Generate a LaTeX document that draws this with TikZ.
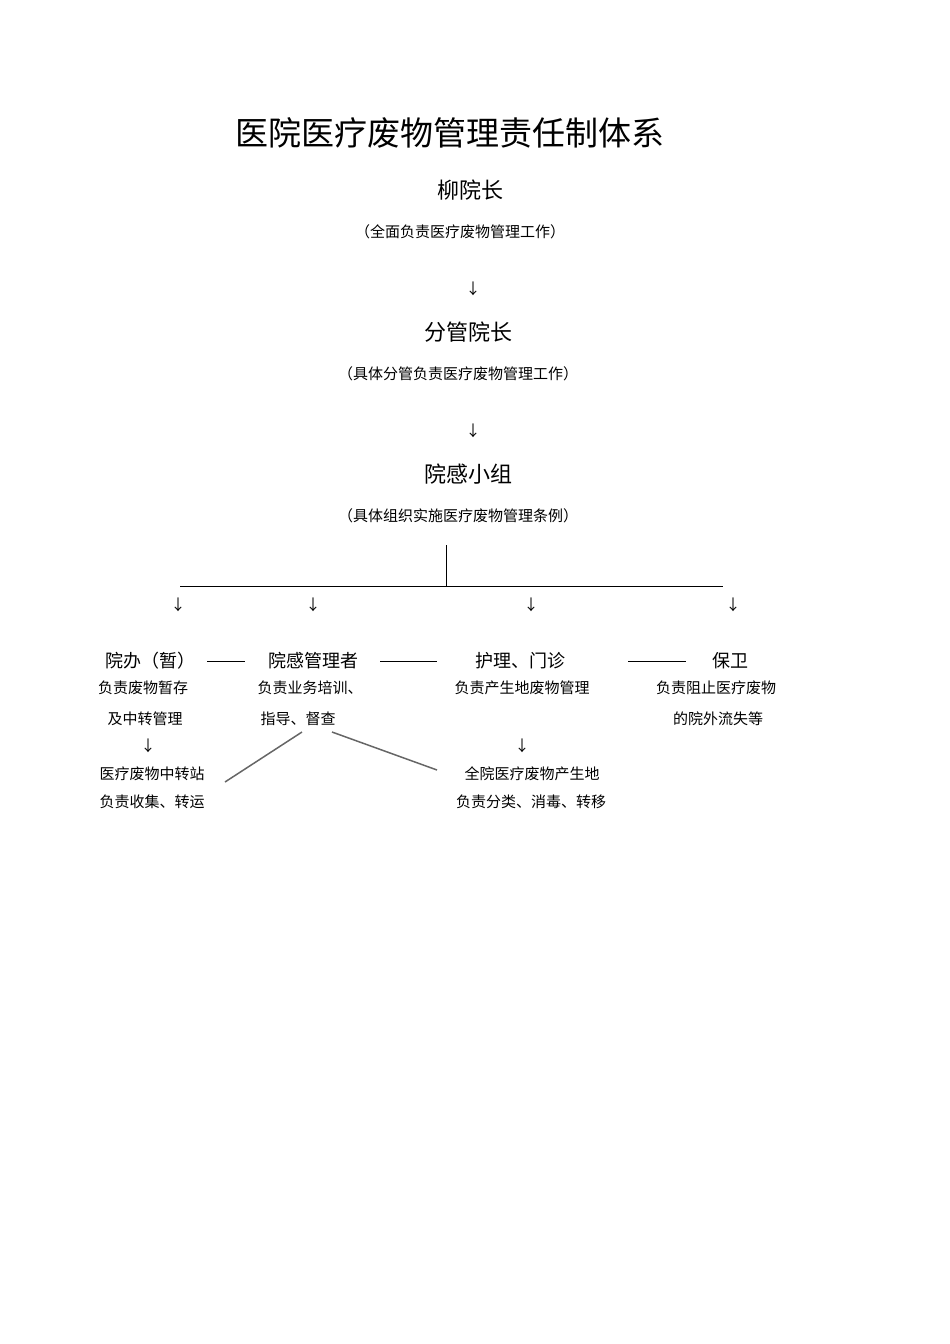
\documentclass[tikz,border=0pt]{standalone}
\usepackage{fontspec}
\setmainfont{Noto Sans CJK SC}
\begin{document}
\begin{tikzpicture}[x=1pt,y=-1pt,
  big/.style={font=\fontsize{22}{24}\selectfont,inner sep=0},
  sm/.style={font=\fontsize{15}{17}\selectfont,inner sep=0},
  ln/.style={line width=0.9pt}]
\useasboundingbox (0,0) rectangle (950,1344);
\node[font=\fontsize{33}{36}\selectfont,inner sep=0] (title) at (450,133) {医院医疗废物管理责任制体系};
\node[big] (a) at (470,190) {柳院长};
\node[sm] (an) at (460,232) {（全面负责医疗废物管理工作）};
\node[sm] (ar) at (473,289) {↓};
\node[big] (b) at (468,332) {分管院长};
\node[sm] (bn) at (458,374) {（具体分管负责医疗废物管理工作）};
\node[sm] (br) at (473,431) {↓};
\node[big] (c) at (468,474) {院感小组};
\node[sm] (cn) at (458,516) {（具体组织实施医疗废物管理条例）};
\coordinate (v1) at (446,545); \coordinate (v2) at (446,586);
\coordinate (h1) at (180,586); \coordinate (h2) at (723,586);
\draw[ln] (v1)--(v2); \draw[ln] (h1)--(h2);
\foreach \x/\n in {178/r1,313/r2,531/r3,733/r4} \node[sm] (\n) at (\x,605) {↓};
\node[font=\fontsize{18}{20}\selectfont,inner sep=0] (d1) at (150,661) {院办（暂）};
\node[font=\fontsize{18}{20}\selectfont,inner sep=0] (d2) at (313,661) {院感管理者};
\node[font=\fontsize{18}{20}\selectfont,inner sep=0] (d3) at (520,661) {护理、门诊};
\node[font=\fontsize{18}{20}\selectfont,inner sep=0] (d4) at (730,661) {保卫};
\coordinate (l1a) at (207,661); \coordinate (l1b) at (245,661);
\coordinate (l2a) at (380,661); \coordinate (l2b) at (437,661);
\coordinate (l3a) at (628,661); \coordinate (l3b) at (686,661);
\draw[ln] (l1a)--(l1b); \draw[ln] (l2a)--(l2b); \draw[ln] (l3a)--(l3b);
\node[sm] (e1) at (143,688) {负责废物暂存};
\node[sm] (e2) at (145,719) {及中转管理};
\node[sm] (e3) at (148,746) {↓};
\node[sm] (e4) at (152,774) {医疗废物中转站};
\node[sm] (e5) at (152,802) {负责收集、转运};
\node[sm] (f1) at (310,688) {负责业务培训、};
\node[sm] (f2) at (298,719) {指导、督查};
\node[sm] (g1) at (522,688) {负责产生地废物管理};
\node[sm] (g2) at (522,746) {↓};
\node[sm] (g3) at (532,774) {全院医疗废物产生地};
\node[sm] (g4) at (531,802) {负责分类、消毒、转移};
\node[sm] (k1) at (716,688) {负责阻止医疗废物};
\node[sm] (k2) at (718,719) {的院外流失等};
\coordinate (p1) at (302,732); \coordinate (p2) at (225,782);
\coordinate (q1) at (332,732); \coordinate (q2) at (437,770);
\draw[line width=1.5pt,gray!80!black] (p1)--(p2);
\draw[line width=1.5pt,gray!80!black] (q1)--(q2);
\end{tikzpicture}
\end{document}
